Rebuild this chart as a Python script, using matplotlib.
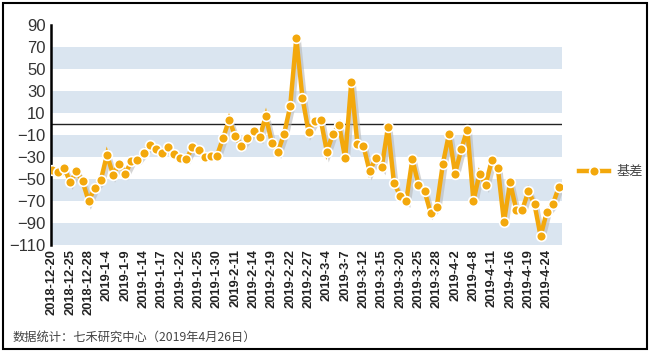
import matplotlib
matplotlib.use('Agg')
import matplotlib.pyplot as plt
import matplotlib.transforms as mtransforms
from matplotlib.patches import Rectangle

# 交易日标签（每3个交易日一个）
tick_labels = ['2018-12-20', '2018-12-25', '2018-12-28', '2019-1-4', '2019-1-9',
               '2019-1-14', '2019-1-17', '2019-1-22', '2019-1-25', '2019-1-30',
               '2019-2-11', '2019-2-14', '2019-2-19', '2019-2-22', '2019-2-27',
               '2019-3-4', '2019-3-7', '2019-3-12', '2019-3-15', '2019-3-20',
               '2019-3-25', '2019-3-28', '2019-4-2', '2019-4-8', '2019-4-11',
               '2019-4-16', '2019-4-19', '2019-4-24']

# 基差（84个交易日）
basis = [-42, -44, -40, -53, -43, -52, -70, -58, -51, -28,
         -46, -36, -45, -34, -33, -26, -19, -23, -26, -21,
         -27, -31, -32, -21, -24, -30, -29, -29, -13, 4,
         -11, -20, -13, -6, -12, 7, -17, -25, -9, 16,
         78, 24, -7, 3, 4, -25, -9, -1, -31, 38,
         -18, -20, -43, -31, -39, -3, -54, -65, -70, -32,
         -55, -61, -81, -75, -36, -9, -45, -23, -5, -70,
         -45, -55, -33, -40, -89, -53, -78, -78, -61, -73,
         -102, -80, -73, -57]

series_name = '基差'
footer = '数据统计：七禾研究中心（2019年4月26日）'

orange = '#F3A80C'
band = '#DAE5F0'

plt.rcParams['font.family'] = ['Liberation Sans', 'DejaVu Sans']

fig = plt.figure(figsize=(6.51, 3.53), dpi=100)
ax = fig.add_axes([51 / 651, 1 - 245 / 353, (562 - 51) / 651, (245 - 25) / 353])

x = list(range(len(basis)))

for lo in (-110, -70, -30, 10, 50):
    ax.axhspan(lo, lo + 20, color=band, lw=0, zorder=0)
ax.axhline(0, color='#222222', lw=1.0, zorder=1)

# 阴影
shadow_tr = mtransforms.offset_copy(ax.transData, fig=fig, x=2.5, y=-2.5, units='dots')
ax.plot(x, basis, color='#b8b8b8', lw=3.2, alpha=0.6, transform=shadow_tr,
        solid_joinstyle='miter', zorder=2)
line, = ax.plot(x, basis, color=orange, lw=3.2, marker='o', markersize=7,
                markerfacecolor=orange, markeredgecolor='white', markeredgewidth=1.2,
                solid_joinstyle='miter', zorder=3, label=series_name)

ax.set_xlim(-0.16, 83.5)
ax.set_ylim(-110, 90)
ax.set_yticks(range(-110, 91, 20))
ax.set_xticks(range(0, len(basis), 3))
ax.set_xticklabels(tick_labels, rotation=90, fontsize=9.3, fontweight='bold', color='#222222')
ax.tick_params(axis='y', length=0, pad=4, labelsize=12, labelcolor='#333333')
ax.tick_params(axis='x', length=0, pad=3)

for s in ('top', 'right', 'bottom'):
    ax.spines[s].set_visible(False)
ax.spines['left'].set_linewidth(1.8)
ax.spines['left'].set_color('black')

fig.legend(handles=[line], loc='center left', bbox_to_anchor=(579 / 651, 1 - 172 / 353),
           frameon=False, handlelength=2.3, handletextpad=0.55, borderpad=0, borderaxespad=0,
           prop={'family': ['Noto Sans CJK SC'], 'size': 9.5}, labelcolor='#444444')

fig.text(13 / 651, 1 - 337 / 353, footer, fontsize=8.8, color='#444444',
         family=['Noto Sans CJK SC', 'DejaVu Sans'], va='center', ha='left')

fig.patches.append(Rectangle((3 / 651, 4 / 353), 644 / 651, 346 / 353, transform=fig.transFigure,
                             fill=False, edgecolor='black', lw=1.5))

fig.savefig('out.png', dpi=100)
